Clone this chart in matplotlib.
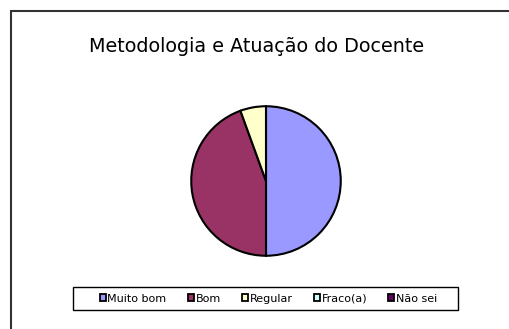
import matplotlib.pyplot as plt
from matplotlib.patches import Rectangle, Patch

plt.rcParams['font.family'] = ['DejaVu Sans']

categories = ["Muito bom", "Bom", "Regular", "Fraco(a)", "Não sei"]
counts = [9, 8, 1, 0, 0]
colors = ["#9999FF", "#993366", "#FFFFCC", "#CCFFFF", "#660066"]

W, H = 509, 329
fig = plt.figure(figsize=(W / 100, H / 100), dpi=100)


def box(x0, y0, x1, y1, **kw):
    # rectangle given in pixel coords, measured from the top-left corner
    return Rectangle((x0 / W, 1 - y1 / H), (x1 - x0) / W, (y1 - y0) / H,
                     transform=fig.transFigure, fill=False, **kw)


# chart area border, running off the right and bottom edges
fig.patches.append(box(11, 11, 540, 360, edgecolor="#333333", linewidth=1.5))

fig.text(257 / W, 1 - 46 / H, "Metodologia e Atuação do Docente",
         ha="center", va="center", fontsize=13.8)

ax = fig.add_axes([(266 - 77) / W, 1 - (181 + 77) / H, 154 / W, 154 / H])
vals = [c for c in counts if c > 0]
cols = [colors[i] for i, c in enumerate(counts) if c > 0]
ax.pie(vals, colors=cols, startangle=90, counterclock=False,
       wedgeprops=dict(edgecolor="black", linewidth=1.5))
ax.set_xlim(-1.03, 1.03)
ax.set_ylim(-1.03, 1.03)
ax.set_aspect("equal")

handles = [Patch(facecolor=c, edgecolor="black", linewidth=1.3) for c in colors]
fig.legend(handles, categories, loc="center",
           bbox_to_anchor=(268.5 / W, 1 - 298.5 / H), ncol=5,
           fontsize=8, frameon=False,
           handlelength=0.55, handleheight=0.55, handletextpad=0.15,
           columnspacing=1.9, borderpad=0, borderaxespad=0)
fig.patches.append(box(73, 287, 458, 310, edgecolor="black", linewidth=1.0))

fig.savefig("out.png", dpi=100)
